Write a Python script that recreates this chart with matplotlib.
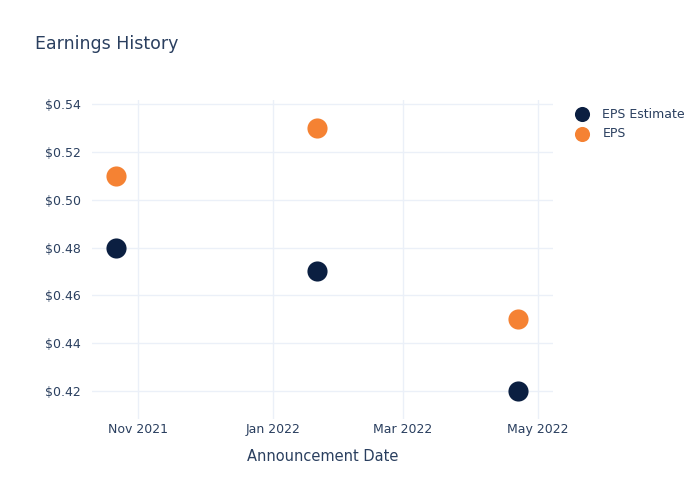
import matplotlib
matplotlib.use("Agg")
import matplotlib.pyplot as plt
import pandas as pd

# data
dates = pd.to_datetime(["2021-10-22", "2022-01-21", "2022-04-22"])
eps_estimate = [0.48, 0.47, 0.42]
eps_actual = [0.51, 0.53, 0.45]
tick_dates = pd.to_datetime(["2021-11-01", "2022-01-01", "2022-03-01", "2022-05-01"])
tick_labels = ["Nov 2021", "Jan 2022", "Mar 2022", "May 2022"]
yticks = [0.42, 0.44, 0.46, 0.48, 0.50, 0.52, 0.54]

TXT = "#2a3f5f"
GRID = "#ebf0f8"
NAVY = "#0b1f41"
ORANGE = "#f58233"

plt.rcParams['font.family'] = ['DejaVu Sans']

fig = plt.figure(figsize=(7, 5), dpi=100)
ax = fig.add_axes([92/700, 1 - 419/500, (553 - 92)/700, (419 - 100)/500])

ax.scatter(dates, eps_estimate, s=210, color=NAVY, label="EPS Estimate", zorder=3, linewidths=0)
ax.scatter(dates, eps_actual, s=210, color=ORANGE, label="EPS", zorder=3, linewidths=0)

ax.set_xlim(pd.Timestamp("2021-10-11"), pd.Timestamp("2022-05-08"))
ax.set_ylim(0.4083, 0.5417)
ax.set_xticks(tick_dates)
ax.set_xticklabels(tick_labels)
ax.set_yticks(yticks)
ax.set_yticklabels([f"${v:.2f}" for v in yticks])

ax.grid(True, color=GRID, linewidth=1)
ax.set_axisbelow(True)
for s in ax.spines.values():
    s.set_visible(False)
ax.tick_params(length=0, colors=TXT, labelsize=9)
ax.tick_params(axis='x', pad=3)
ax.tick_params(axis='y', pad=8)

ax.set_xlabel("Announcement Date", color=TXT, fontsize=10.5, labelpad=9)
fig.text(35/700, 1 - 44/500, "Earnings History", color=TXT, fontsize=12.5, va='center', ha='left')

leg = ax.legend(loc='upper left', bbox_to_anchor=(1.026, 0.992), frameon=False,
                fontsize=9, labelcolor=TXT, handletextpad=0.6, borderaxespad=0,
                labelspacing=0.5, markerscale=0.75)

fig.savefig("out.png", dpi=100)
